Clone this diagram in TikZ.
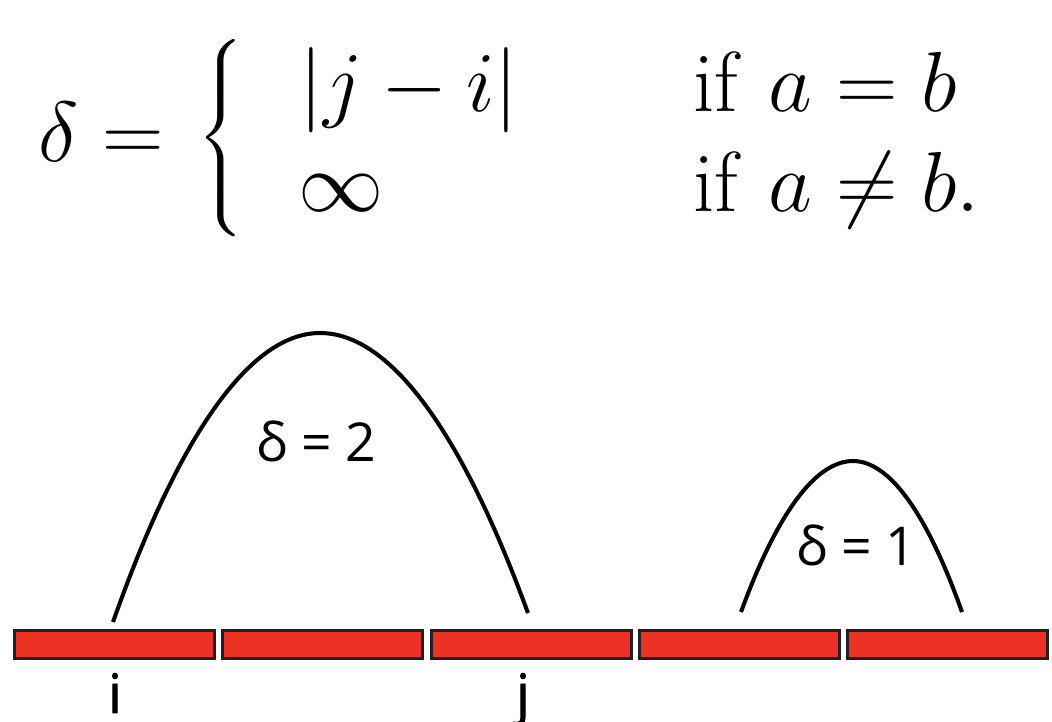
\RequirePackage{fix-cm}
\documentclass[tikz,border=0pt]{standalone}
\usepackage{amsmath}
\usepackage{graphicx}
\usepackage{fontspec}
\newfontfamily\labelfont{Open Sans}
\newfontfamily\labelboldfont[FakeBold=1.2]{Open Sans}
\definecolor{barred}{HTML}{EC3125}
\definecolor{barborder}{HTML}{231F20}
\begin{document}
\begin{tikzpicture}[x=0.02cm,y=-0.02cm,
  mth/.style={anchor=base west, inner sep=0pt, font=\fontsize{48.5}{58}\selectfont},
  lbl/.style={inner sep=0pt, font=\labelfont\fontsize{30.5}{37}\selectfont},
  idx/.style={inner sep=0pt, anchor=base, font=\labelboldfont\fontsize{31}{37}\selectfont},
  cell/.style={draw=barborder, fill=barred, line width=1.8pt, inner sep=0pt,
               minimum width=4.0cm, minimum height=0.56cm},
  arcline/.style={line width=2.3pt, line cap=butt}]
\useasboundingbox (0,0) rectangle (1052,722);
% formula
\node[mth] (lhs) at (38,162) {$\delta =$};
\node[mth] (brace) at (197,161) {\scalebox{1.2}[1.075]{$\left\{\vrule height 62pt depth 40pt width 0pt\right.$}};
\node[mth] (r1) at (299,112) {$|j-i|$};
\node[mth] (r2) at (298,212) {$\infty$};
\node[mth] (c1t) at (693,112) {$\text{if}\hspace{0.36em}a=b$};
\node[mth] (c2t) at (693,212) {$\text{if}\hspace{0.36em}a\neq b.$};
% bars
\foreach \k/\cx in {1/114.5,2/322.8,3/531.1,4/739.4,5/947.7}
  \node[cell] (c\k) at (\cx,644.6) {};
% labels
\node[idx] (li) at (115,713) {i};
\node[idx] (lj) at (523,713) {j};
\node[lbl, anchor=base west] (d2) at (256,462) {δ = 2};
\node[lbl, anchor=base west] (d1) at (796,566) {δ = 1};
% arcs
\coordinate (a1) at (113,622);
\coordinate (p1) at (320,333);
\coordinate (b1) at (528,613);
\coordinate (a2) at (741,612);
\coordinate (p2) at (853,461);
\coordinate (b2) at (962,612);
\draw[arcline] (a1) parabola bend (p1) (b1);
\draw[arcline] (a2) parabola bend (p2) (b2);
\end{tikzpicture}
\end{document}
